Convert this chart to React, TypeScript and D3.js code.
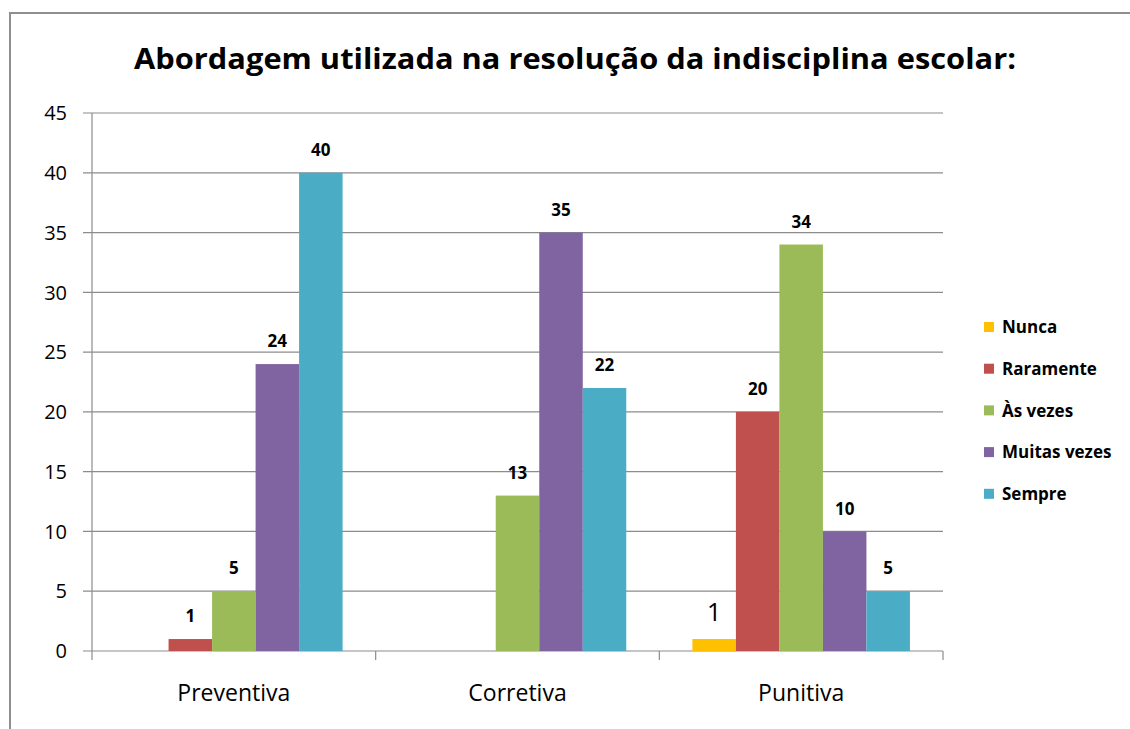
import React from "react";
import * as d3 from "d3";

const categories = ["Preventiva", "Corretiva", "Punitiva"];
const seriesNames = ["Nunca", "Raramente", "Às vezes", "Muitas vezes", "Sempre"];
const nunca: (number | null)[] = [null, null, 1];
const raramente: (number | null)[] = [1, null, 20];
const asVezes: (number | null)[] = [5, 13, 34];
const muitasVezes: (number | null)[] = [24, 35, 10];
const sempre: (number | null)[] = [40, 22, 5];
const seriesValues = [nunca, raramente, asVezes, muitasVezes, sempre];
const yTicks = [0, 5, 10, 15, 20, 25, 30, 35, 40, 45];
const colors = ["#FFC000", "#C0504D", "#9BBB59", "#8064A2", "#4BACC6"];

const W = 1130;
const H = 729;
const plot = { left: 92, right: 943, top: 113, bottom: 651 };
const FONT = "'Open Sans', sans-serif";

export default function App() {
  const x0 = d3.scaleBand<string>().domain(categories).range([plot.left, plot.right]).paddingInner(0).paddingOuter(0);
  const x1 = d3
    .scaleBand<string>()
    .domain(seriesNames)
    .range([0, x0.bandwidth()])
    .paddingInner(0)
    .paddingOuter(0.76);
  const y = d3.scaleLinear().domain([0, 45]).range([plot.bottom, plot.top]);
  const grid = "#8c8c8c";

  return (
    <div style={{ position: "absolute", left: 0, top: 0 }}>
      <svg width={W} height={H} style={{ display: "block" }}>
        <rect x={0} y={0} width={W} height={H} fill="#fff" />
        <rect x={10} y={13} width={W + 20} height={H + 20} fill="none" stroke="#8f8f8f" strokeWidth={2} />
        <text
          x={575}
          y={69}
          textAnchor="middle"
          fontFamily={FONT}
          fontWeight="bold"
          fontSize={29}
          fill="#000"
          textLength={882}
          lengthAdjust="spacingAndGlyphs"
        >
          Abordagem utilizada na resolução da indisciplina escolar:
        </text>
        {yTicks.map((t) => (
          <g key={t}>
            <line x1={83} x2={plot.right} y1={y(t)} y2={y(t)} stroke={grid} strokeWidth={1.2} />
            <text x={67} y={y(t)} dy="0.36em" textAnchor="end" fontFamily={FONT} fontSize={20} fill="#000">
              {t}
            </text>
          </g>
        ))}
        <line x1={plot.left} x2={plot.left} y1={plot.top} y2={plot.bottom + 9} stroke={grid} strokeWidth={1.2} />
        {categories.map((c) => (
          <line
            key={c}
            x1={(x0(c) as number) + x0.bandwidth()}
            x2={(x0(c) as number) + x0.bandwidth()}
            y1={plot.bottom}
            y2={plot.bottom + 9}
            stroke={grid}
            strokeWidth={1.2}
          />
        ))}
        {categories.map((c) => (
          <text
            key={c}
            x={(x0(c) as number) + x0.bandwidth() / 2}
            y={693}
            dy="0.36em"
            textAnchor="middle"
            fontFamily={FONT}
            fontSize={23}
            fill="#000"
          >
            {c}
          </text>
        ))}
        {seriesNames.map((s, si) =>
          categories.map((c, ci) => {
            const v = seriesValues[si][ci];
            if (v === null) return null;
            const bx = (x0(c) as number) + (x1(s) as number);
            const special = si === 0;
            return (
              <g key={s + c}>
                <rect x={bx} y={y(v)} width={x1.bandwidth()} height={y(0) - y(v)} fill={colors[si]} />
                <text
                  x={bx + x1.bandwidth() / 2}
                  y={y(v) - (special ? 27 : 23)}
                  dy="0.36em"
                  textAnchor="middle"
                  fontFamily={FONT}
                  fontWeight={special ? "normal" : "bold"}
                  fontSize={special ? 25 : 17}
                  fill="#000"
                >
                  {v}
                </text>
              </g>
            );
          })
        )}
        {seriesNames.map((s, i) => (
          <g key={s} transform={`translate(984, ${327 + i * 41.7})`}>
            <rect x={0} y={-5} width={10} height={10} fill={colors[i]} />
            <text x={18} y={0} dy="0.36em" fontFamily={FONT} fontWeight="bold" fontSize={17} fill="#000">
              {s}
            </text>
          </g>
        ))}
      </svg>
    </div>
  );
}
